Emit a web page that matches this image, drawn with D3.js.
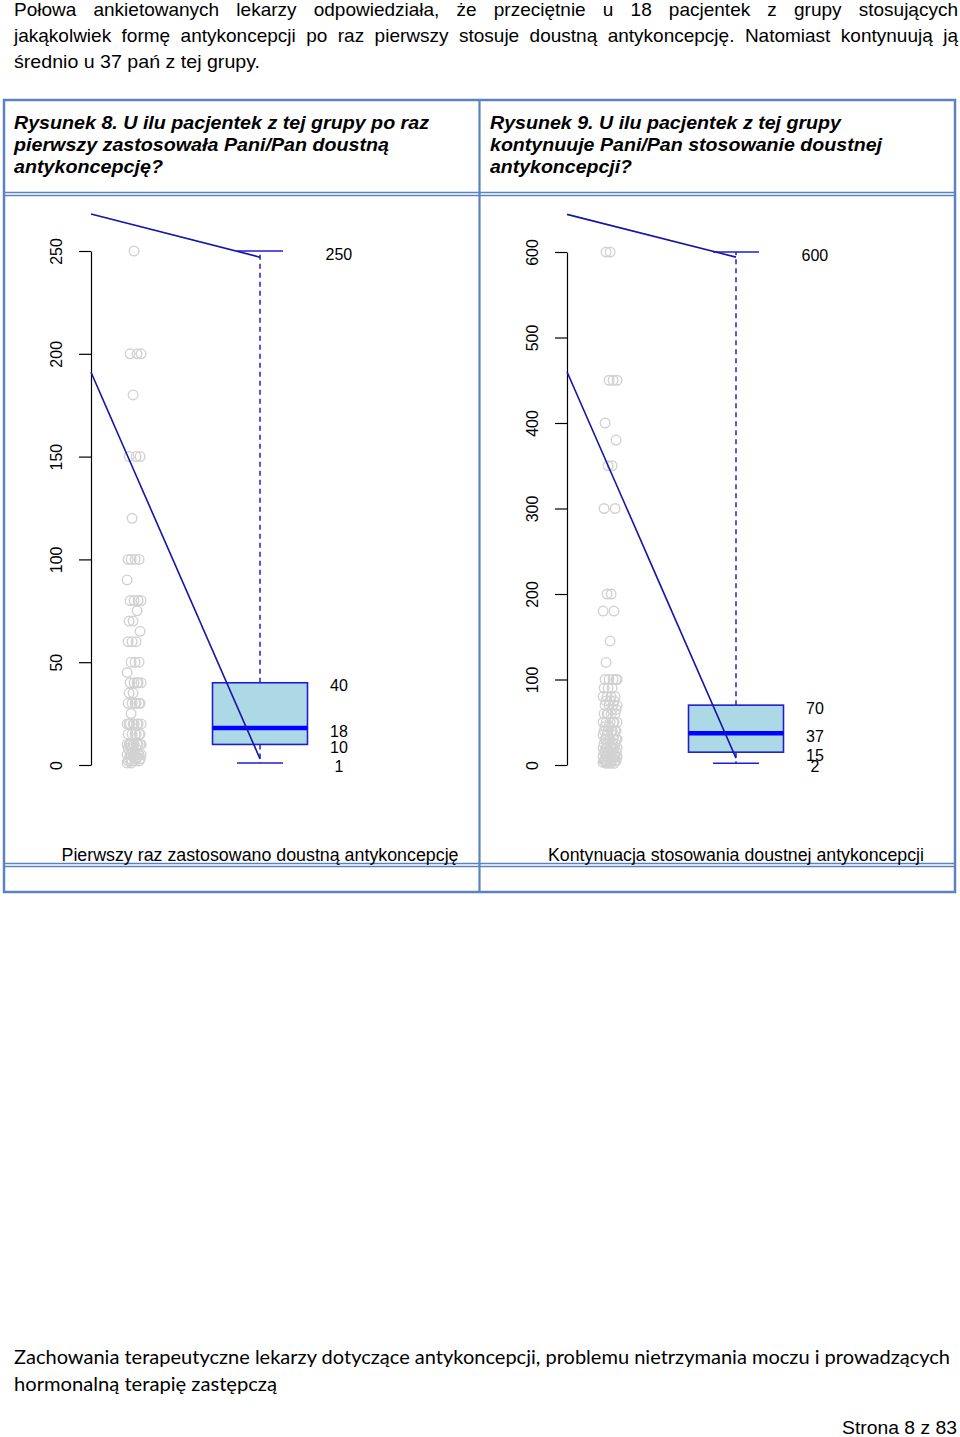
<!DOCTYPE html>
<html>
<head>
<meta charset="utf-8">
<script src="https://cdn.jsdelivr.net/npm/d3@7"></script>
<style>
  body { margin: 0; background: #fff; }
  svg { display: block; }
  .body-text { font-family: "Liberation Sans", Arial, sans-serif; font-size: 19px; fill: #000; }
  .title { font-family: "Liberation Sans", Arial, sans-serif; font-size: 19px; font-weight: bold; font-style: italic; fill: #000; }
  .tick-text { font-family: "Liberation Sans", Arial, sans-serif; font-size: 16px; fill: #000; }
  .footer { font-family: Lato, "Open Sans", sans-serif; font-size: 20px; fill: #000; }
</style>
</head>
<body>
<div id="root"></div>
<script>
// ---- data ----
const introLines = [
  'Połowa ankietowanych lekarzy odpowiedziała, że przeciętnie u 18 pacjentek z grupy stosujących',
  'jakąkolwiek formę antykoncepcji po raz pierwszy stosuje doustną antykoncepcję. Natomiast kontynuują ją',
  'średnio u 37 pań z tej grupy.'
];

const fig8Title = [
  'Rysunek 8. U ilu pacjentek z tej grupy po raz',
  'pierwszy zastosowała Pani/Pan doustną',
  'antykoncepcję?'
];
const fig9Title = [
  'Rysunek 9. U ilu pacjentek z tej grupy',
  'kontynuuje Pani/Pan stosowanie doustnej',
  'antykoncepcji?'
];

const fig8Caption = 'Pierwszy raz zastosowano doustną antykoncepcję';
const fig9Caption = 'Kontynuacja stosowania doustnej antykoncepcji';

// individual answers (number of patients)
const fig8Values = [
  250,
  200, 200, 200,
  180,
  150, 150, 150,
  120,
  100, 100, 100, 100,
  90,
  80, 80, 80, 80,
  75,
  70, 70,
  65,
  60, 60, 60,
  50, 50, 50,
  45,
  40, 40, 40, 40, 40,
  35, 35,
  30, 30, 30, 30, 30, 30,
  25,
  20, 20, 20, 20, 20, 20, 20, 20,
  15, 15, 15, 15, 15, 15,
  10, 10, 10, 10, 10, 10, 10, 10, 10, 10,
  8, 8, 8,
  5, 5, 5, 5, 5, 5, 5, 5,
  4, 4,
  3, 3, 3,
  2, 2, 2, 2,
  1, 1
];
const fig9Values = [
  600, 600,
  450, 450, 450,
  400, 380, 350, 350, 300, 300,
  200, 200, 180, 180, 145, 120,
  100, 100, 100, 100, 100,
  90, 90, 90,
  80, 80, 80, 80,
  75, 75, 75,
  70, 70, 70, 70,
  65, 65,
  60, 60, 60, 60, 60,
  50, 50, 50, 50, 50, 50,
  45, 45,
  40, 40, 40, 40, 40, 40,
  35, 35, 35,
  30, 30, 30, 30, 30, 30, 30,
  25, 25, 25, 25,
  20, 20, 20, 20, 20, 20, 20, 20,
  15, 15, 15, 15, 15, 15,
  10, 10, 10, 10, 10, 10, 10, 10,
  8, 8,
  5, 5, 5, 5, 5, 5,
  3, 3, 3,
  2, 2, 2
];

// min, q1, median, q3, max (as labelled)
const fig8Stats = [1, 10, 18, 40, 250];
const fig9Stats = [2, 15, 37, 70, 600];

const fig8Ticks = [0, 50, 100, 150, 200, 250];
const fig9Ticks = [0, 100, 200, 300, 400, 500, 600];

// the two slanted blue guide lines: [value at axis, value at box centre]
const fig8Guides = [[268, 247], [191, 3]];
const fig9Guides = [[644, 594], [460, 8]];

const footerLines = [
  'Zachowania terapeutyczne lekarzy dotyczące antykoncepcji, problemu nietrzymania moczu i prowadzących',
  'hormonalną terapię zastępczą'
];
const pageLabel = 'Strona 8 z 83';

// ---- drawing ----
const width = 960;
const height = 1437;
const borderColor = '#5b83c0';

const svg = d3.select('#root').append('svg')
  .attr('width', width)
  .attr('height', height);

// justified line: words spread over the given width
const justify = (text, x0, w, y, cls) => {
  const words = text.split(' ');
  const t = svg.append('text').attr('class', cls).attr('y', y);
  const spans = words.map(word => t.append('tspan').text(word));
  const widths = spans.map(s => s.node().getComputedTextLength());
  const gap = (w - d3.sum(widths)) / (words.length - 1);
  let x = x0;
  spans.forEach((s, i) => {
    s.attr('x', x);
    x += widths[i] + gap;
  });
};

const fitted = (text, x, y, w, cls, anchor) => svg.append('text')
  .attr('class', cls)
  .attr('x', x)
  .attr('y', y)
  .attr('text-anchor', anchor || 'start')
  .attr('textLength', w)
  .attr('lengthAdjust', 'spacingAndGlyphs')
  .text(text);

// intro paragraph
justify(introLines[0], 14, 944, 16, 'body-text');
justify(introLines[1], 14, 944, 42, 'body-text');
fitted(introLines[2], 14, 68, 246, 'body-text');

// table frame
const table = svg.append('g')
  .attr('fill', 'none')
  .attr('stroke', borderColor);

table.append('rect')
  .attr('x', 4).attr('y', 100)
  .attr('width', 951).attr('height', 792)
  .attr('stroke-width', 2.5);

[192.5, 195.5, 863.5, 866.5].forEach(yy => {
  table.append('line')
    .attr('x1', 4).attr('x2', 955)
    .attr('y1', yy).attr('y2', yy)
    .attr('stroke-width', 1.6);
});

table.append('line')
  .attr('x1', 479.5).attr('x2', 479.5)
  .attr('y1', 100).attr('y2', 892)
  .attr('stroke-width', 2.2);

// figure titles
const titleWidths8 = [415, 375, 149];
const titleWidths9 = [351, 392, 142];
fig8Title.forEach((line, i) => fitted(line, 14, 129 + i * 22, titleWidths8[i], 'title'));
fig9Title.forEach((line, i) => fitted(line, 490, 129 + i * 22, titleWidths9[i], 'title'));

// one box-plot panel
const drawPanel = (axisX, yTop, maxV, ticks, values, stats, guides, caption, captionW) => {
  const g = svg.append('g');

  const y = d3.scaleLinear().domain([0, maxV]).range([765, yTop]);
  const x = d3.scaleLinear().domain([0, 1]).range([axisX, axisX + 169]);

  const axis = g.append('g')
    .attr('transform', `translate(${axisX},0)`)
    .call(d3.axisLeft(y).tickValues(ticks).tickSize(12).tickSizeOuter(0).tickFormat(d3.format('d')));

  axis.selectAll('path, line').attr('stroke', '#000').attr('stroke-width', 1.2);
  axis.selectAll('text')
    .attr('class', 'tick-text')
    .attr('font-size', null)
    .attr('font-family', null)
    .attr('transform', 'rotate(-90)')
    .attr('x', 0)
    .attr('y', -29)
    .attr('dy', 0)
    .attr('text-anchor', 'middle');

  // answers as open grey circles, jittered a little sideways
  g.append('g')
    .selectAll('circle')
    .data(values)
    .join('circle')
    .attr('cx', (d, i) => x(0.255) + ((i * 11 + 7) % 15) - 7)
    .attr('cy', d => y(d))
    .attr('r', 4.8)
    .attr('fill', 'none')
    .attr('stroke', '#d2d2d2')
    .attr('stroke-width', 1.4);

  const [lo, q1, med, q3, hi] = stats;
  const cx = x(1);
  const half = x(0.281) - x(0);
  const cap = x(0.136) - x(0);

  // whiskers
  g.append('g')
    .selectAll('line')
    .data([[q3, hi], [q1, lo]])
    .join('line')
    .attr('x1', cx).attr('x2', cx)
    .attr('y1', d => y(d[0])).attr('y2', d => y(d[1]))
    .attr('stroke', '#1f1fd0')
    .attr('stroke-width', 1.5)
    .attr('stroke-dasharray', '5,4');

  g.append('g')
    .selectAll('line')
    .data([lo, hi])
    .join('line')
    .attr('x1', cx - cap).attr('x2', cx + cap)
    .attr('y1', d => y(d)).attr('y2', d => y(d))
    .attr('stroke', '#1f1fd0')
    .attr('stroke-width', 1.5);

  // box
  g.append('rect')
    .attr('x', cx - half)
    .attr('y', y(q3))
    .attr('width', half * 2)
    .attr('height', y(q1) - y(q3))
    .attr('fill', '#add8e6')
    .attr('stroke', '#1f1fd0')
    .attr('stroke-width', 1.6);

  g.append('line')
    .attr('x1', cx - half).attr('x2', cx + half)
    .attr('y1', y(med)).attr('y2', y(med))
    .attr('stroke', '#0000ff')
    .attr('stroke-width', 4.5);

  // value labels
  g.append('g')
    .selectAll('text')
    .data(stats)
    .join('text')
    .attr('class', 'tick-text')
    .attr('x', x(1.467))
    .attr('y', d => y(d) + 3)
    .attr('dy', '0.35em')
    .attr('text-anchor', 'middle')
    .text(d => d);

  // slanted guide lines
  g.append('g')
    .selectAll('line')
    .data(guides)
    .join('line')
    .attr('x1', x(0)).attr('y1', d => y(d[0]))
    .attr('x2', x(1)).attr('y2', d => y(d[1]))
    .attr('stroke', '#1414a8')
    .attr('stroke-width', 1.6);

  fitted(caption, cx, 861, captionW, 'tick-text', 'middle').style('font-size', '17.5px');
};

drawPanel(91, 251, 250, fig8Ticks, fig8Values, fig8Stats, fig8Guides, fig8Caption, 397);
drawPanel(567, 252, 600, fig9Ticks, fig9Values, fig9Stats, fig9Guides, fig9Caption, 376);

// footer
fitted(footerLines[0], 14, 1364, 936, 'footer');
fitted(footerLines[1], 14, 1391, 263, 'footer');
fitted(pageLabel, 957, 1434, 115, 'body-text', 'end').style('font-size', '17.5px');
</script>
</body>
</html>
